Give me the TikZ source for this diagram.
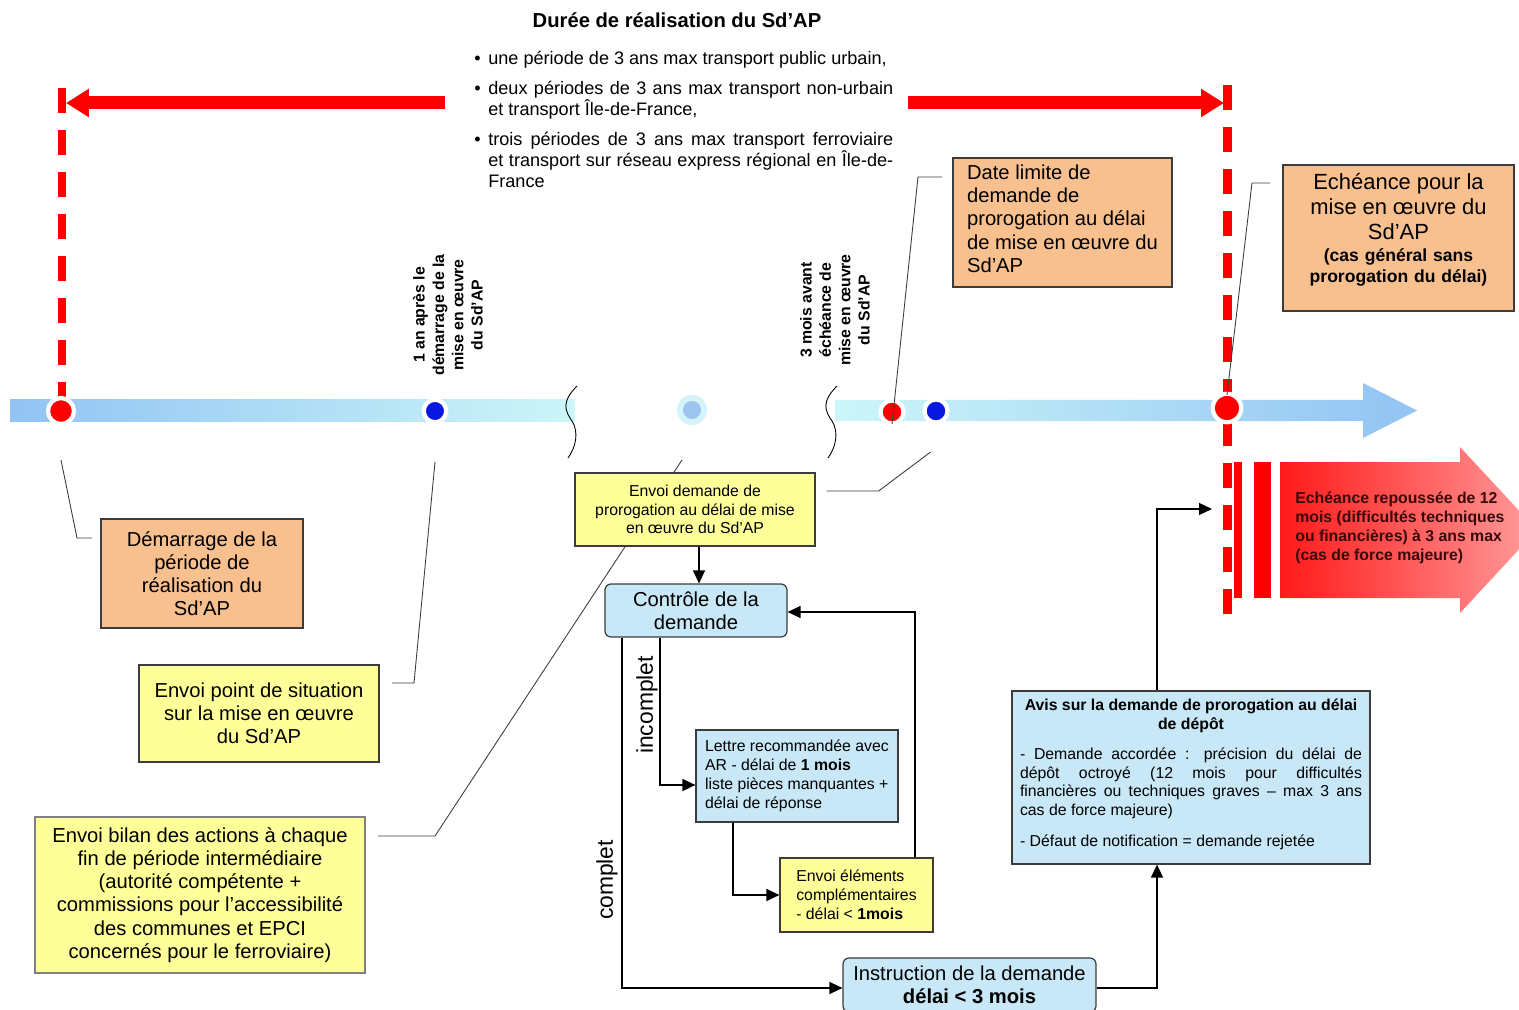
\documentclass[tikz,border=0pt]{standalone}
\usepackage{fontspec}
\setmainfont{Liberation Sans}
\usetikzlibrary{arrows.meta}

\definecolor{peche}{HTML}{F9C08F}
\definecolor{jaune}{HTML}{FFFF99}
\definecolor{bleuclair}{HTML}{C8E8F8}
\definecolor{trait}{HTML}{3C3C3C}
\definecolor{frisebleu}{HTML}{92C3F3}
\definecolor{frisecyan}{HTML}{CCF6F8}
\definecolor{rouge}{HTML}{FF0000}
\definecolor{bleu}{HTML}{0818E0}
\definecolor{fantome}{HTML}{9DC4EE}
\definecolor{halo}{HTML}{D2F4FA}
\definecolor{rougeclair}{HTML}{FF9C9C}
\definecolor{textefonce}{HTML}{3A0A0A}

\newcommand{\gros}{\fontsize{11.5}{13.2}\selectfont}
\newcommand{\petit}{\fontsize{9}{10.7}\selectfont}
\newcommand{\puce}{\hangindent=0.28cm\hangafter=1\makebox[0.28cm][l]{\textbullet}}
\newcommand{\cale}[1]{\par\vspace{#1}\nointerlineskip\hbox{}}

\tikzset{
  boite/.style={draw=trait, line width=0.7pt, inner sep=0pt, align=center},
  pechebox/.style={boite, fill=peche, font=\gros},
  jaunebox/.style={boite, fill=jaune},
  bleubox/.style={boite, fill=bleuclair},
  jalon/.style={circle, draw=white, line width=2.4pt, inner sep=0pt},
  renvoi/.style={draw=trait, line width=0.5pt},
  fleche/.style={draw=black, line width=0.7pt, -{Triangle[length=0.26cm,width=0.24cm]}},
  grosse/.style={rouge, line width=0.26cm, -{Triangle[length=0.46cm,width=0.54cm]}},
  pointilles/.style={rouge, line width=0.18cm, dash pattern=on 0.5cm off 0.34cm},
  rupture/.style={draw=black, line width=0.5pt},
  vertical/.style={rotate=90, align=center, font=\fontsize{9}{11}\selectfont\bfseries}
}

\begin{document}
\begin{tikzpicture}[x=0.02cm,y=-0.02cm]
  \useasboundingbox (0,0) rectangle (1519,1010);
  \clip (0,0) rectangle (1519,1010);

  % duree du Sd'AP
  \node[font=\fontsize{11.5}{13}\selectfont\bfseries] (titre) at (677,20) {Durée de réalisation du Sd’AP};
  \node[anchor=north west, inner sep=0pt, text width=8.38cm, align=justify,
        font=\fontsize{10.3}{11.9}\selectfont] (periodes) at (474,51)
    {\setlength{\parskip}{0.18cm}%
     \puce une période de 3 ans max transport public urbain,\par
     \puce deux périodes de 3 ans max transport non-urbain\linebreak et transport Île-de-France,\par
     \puce trois périodes de 3 ans max transport ferroviaire\linebreak et transport sur réseau express régional en Île-de-\linebreak France\par};

  \coordinate (debut) at (62,103);
  \coordinate (fin) at (1227,103);
  \coordinate (gauche) at (445,103);
  \coordinate (droite) at (908,103);
  \draw[grosse] (gauche) -- ([xshift=0.08cm]debut);
  \draw[grosse] (droite) -- ([xshift=-0.06cm]fin);

  % pointilles rouges
  \draw[pointilles] (62,88) -- (62,400);
  \draw[pointilles] (1227,85) -- (1227,617);

  % frise
  \shade[left color=frisebleu, right color=frisecyan] (10,400) rectangle (575,421);
  \shade[left color=frisecyan, right color=frisebleu] (835,400) -- (1363,400) -- (1363,383)
    -- (1417,410.5) -- (1363,438) -- (1363,421) -- (835,421) -- cycle;
  \draw[rupture] (577,386) .. controls (561,402) and (565,411) .. (572,421)
    .. controls (579,432) and (576,447) .. (568,458);
  \draw[rupture] (837,386) .. controls (821,402) and (825,411) .. (832,421)
    .. controls (839,432) and (836,447) .. (828,458);

  % echeance repoussee
  \fill[rouge] (1234,462) rectangle (1242,598);
  \fill[rouge] (1254,462) rectangle (1271,598);
  \shade[left color=rouge!90!white, right color=rougeclair] (1280,462) -- (1460,462) -- (1460,447)
    -- (1537,530) -- (1460,613) -- (1460,598) -- (1280,598) -- cycle;
  \node[anchor=west, align=left, inner sep=0pt, text=textefonce,
        font=\fontsize{9}{10.8}\selectfont\bfseries] (report) at (1295,528)
    {Echéance repoussée de 12\\mois (difficultés techniques\\ou financières) à 3 ans max\\(cas de force majeure)};

  % jalons
  \node[jalon, fill=rouge, minimum size=0.52cm] (d0) at (61,411) {};
  \node[jalon, fill=bleu, minimum size=0.45cm] (d1) at (435,411) {};
  \node[circle, fill=halo, inner sep=0pt, minimum size=0.6cm] (dm) at (692,410) {};
  \node[circle, fill=fantome, inner sep=0pt, minimum size=0.36cm] at (dm) {};
  \node[jalon, fill=rouge, minimum size=0.46cm] (d2) at (892,412) {};
  \node[jalon, fill=bleu, minimum size=0.46cm] (d3) at (936,411) {};
  \node[jalon, fill=rouge, minimum size=0.57cm] (d4) at (1227,408) {};

  \node[vertical] (lab1) at (448,315) {1 an après le\\démarrage de la\\mise en œuvre\\du Sd’AP};
  \node[vertical] (lab2) at (835,310) {3 mois avant\\échéance de\\mise en œuvre\\du Sd’AP};

  % renvois
  \draw[renvoi] ([yshift=-0.98cm]d0.center) -- ++(16,78) -- ++(15,0);
  \draw[renvoi] ([yshift=-1.02cm]d1.center) -- ++(-21,221) -- ++(-22,0);
  \draw[renvoi] ([xshift=-0.2cm,yshift=-1cm]dm.center) -- ++(-247,376) -- ++(-57,0);
  \draw[renvoi] ([yshift=-0.24cm]d2.center) -- ++(26,-247) -- ++(24,0);
  \draw[renvoi] ([yshift=0.26cm]d4.center) -- ++(25,-212) -- ++(18,0);

  % boites
  \node[pechebox, minimum width=4.04cm, minimum height=2.18cm] (demarrage) at (202,573.5)
    {Démarrage de la\\période de\\réalisation du\\Sd’AP};
  \node[jaunebox, font=\gros, minimum width=4.8cm, minimum height=1.94cm] (situation) at (259,713.5)
    {Envoi point de situation\\sur la mise en œuvre\\du Sd’AP};
  \node[jaunebox, draw=gray, font=\gros, minimum width=6.6cm, minimum height=3.12cm] (bilan) at (200,895)
    {Envoi bilan des actions à chaque\\fin de période intermédiaire\\(autorité compétente +\\commissions pour l’accessibilité\\des communes et EPCI\\concernés pour le ferroviaire)};
  \node[jaunebox, font=\petit, minimum width=4.8cm, minimum height=1.46cm] (demande) at (695,509.5)
    {Envoi demande de\\prorogation au délai de mise\\en œuvre du Sd’AP};
  \draw[renvoi] ([xshift=0.22cm,yshift=0.37cm]demande.east) -- ++(52,0) -- ++(52,-39);
  \node[bleubox, font=\gros, rounded corners=0.12cm, minimum width=3.64cm, minimum height=1.06cm] (controle) at (696,610.5)
    {Contrôle de la\\demande};
  \node[bleubox, font=\petit, align=left, minimum width=4.04cm, minimum height=1.84cm] (lettre) at (797,776)
    {Lettre recommandée avec\\AR - délai de \textbf{1 mois}\\liste pièces manquantes +\\délai de réponse};
  \node[jaunebox, font=\petit, align=left, minimum width=3.06cm, minimum height=1.48cm] (complements) at (856.5,895)
    {Envoi éléments\\complémentaires\\- délai < \textbf{1mois}};
  \node[bleubox, font=\gros, rounded corners=0.12cm, minimum width=5.06cm, minimum height=1.08cm] (instruction) at (969.5,985)
    {Instruction de la demande\\\textbf{délai < 3 mois}};
  \node[bleubox, font=\petit, text width=6.84cm, align=justify, inner xsep=0.16cm, minimum height=3.46cm] (avis) at (1191,777.5)
    {{\centering\bfseries Avis sur la demande de prorogation au délai de dépôt\par}
     \vspace{0.22cm}
     - Demande accordée : précision du délai de\linebreak dépôt octroyé (12 mois pour difficultés\linebreak financières ou techniques graves – max 3 ans\linebreak cas de force majeure)\par
     \vspace{0.24cm}
     - Défaut de notification = demande rejetée\cale{0.12cm}};
  \node[pechebox, align=left, minimum width=4.38cm, minimum height=2.58cm] (datelimite) at (1062.5,222.5)
    {Date limite de\\demande de\\prorogation au délai\\de mise en œuvre du\\Sd’AP\\[-0.31cm]};
  \node[boite, fill=peche, text width=4.62cm, minimum height=2.92cm] (echeance) at (1398.5,238)
    {{\fontsize{12.5}{14.2}\selectfont Echéance pour la\\mise en œuvre du\\Sd’AP\par}
     {\fontsize{10}{12.4}\selectfont\bfseries (cas général sans\\prorogation du délai)\par}
     \cale{0.32cm}};

  % circuit de la demande
  \draw[fleche] ([xshift=0.08cm]demande.south) -- ([xshift=0.06cm]controle.north);
  \draw[fleche] ([xshift=-0.72cm]controle.south) |- ([yshift=-0.18cm]lettre.west);
  \draw[fleche] ([xshift=-1.48cm]controle.south) |- ([yshift=-0.06cm]instruction.west);
  \draw[fleche] ([xshift=-1.28cm]lettre.south) |- (complements.west);
  \draw[fleche] ([xshift=1.17cm]complements.north) |- ([yshift=-0.03cm]controle.east);
  \draw[fleche] ([yshift=-0.06cm]instruction.east) -| ([xshift=-0.68cm]avis.south);
  \coordinate (reportentree) at (1212,509);
  \draw[fleche] ([xshift=-0.68cm]avis.north) |- (reportentree);

  \node[rotate=90, font=\fontsize{13}{15}\selectfont] (incomplet) at (647,705) {incomplet};
  \node[rotate=90, font=\fontsize{13}{15}\selectfont] (complet) at (607,880) {complet};
\end{tikzpicture}
\end{document}
